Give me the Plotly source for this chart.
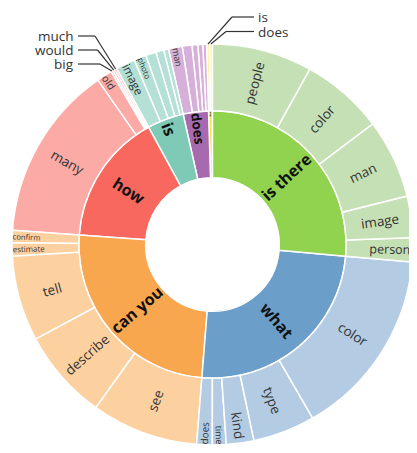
import math
import plotly.graph_objects as go

# first words of the question, clockwise from 12 o'clock
openers = ["is there", "what", "can you", "how", "is", "does", "why"]
opener_colors = ["#91d24f", "#6b9fca", "#f9a74f", "#f8685f", "#7ecab6", "#a86aae", "#f7e24c"]
leaf_colors = ["#c5e0b4", "#b3cce3", "#fdd0a0", "#fbaaa5", "#b4e0d5", "#d6b0d8", "#fcf0a3"]

# second words and their shares (degrees of the circle), clockwise
is_there_words = ["people", "color", "man", "image", "person"]
is_there_vals = [29, 24, 23, 12, 7]
what_words = ["color", "type", "kind", "time", "does"]
what_vals = [55, 18, 8, 4, 4.5]
can_you_words = ["see", "describe", "tell", "estimate", "confirm"]
can_you_vals = [31, 26.3, 24.8, 3.8, 3.6]
how_words = ["many", "old", "big", "would", "much"]
how_vals = [51, 4.5, 0.6, 0.6, 0.6]
is_words = ["image", "photo", "this", "there", "it"]
is_vals = [5.6, 3.6, 3.0, 2.3, 1.4]
does_words = ["man", "this", "it", "image", "person"]
does_vals = [4.0, 2.8, 1.7, 1.4, 1.1]
why_words = ["is", "does"]
why_vals = [0.8, 0.9]

# words that get a leader line instead of an inside label
left_callouts = ["much", "would", "big"]
right_callouts = ["is", "does"]
hidden = {("how", "big"), ("how", "would"), ("how", "much"),
          ("is", "this"), ("is", "there"), ("is", "it"),
          ("does", "this"), ("does", "it"), ("does", "image"), ("does", "person"),
          ("why", "is"), ("why", "does")}

groups = [is_there_words, what_words, can_you_words, how_words, is_words, does_words, why_words]
group_vals = [is_there_vals, what_vals, can_you_vals, how_vals, is_vals, does_vals, why_vals]

ids, labels, parents, values, colors, texts, tsize, tcolor = [], [], [], [], [], [], [], []

ids.append("root"); labels.append(""); parents.append(""); values.append(0)
colors.append("white"); texts.append(""); tsize.append(12); tcolor.append("#000")

# plotly lays sectors out counterclockwise, so feed everything in reverse
for k in reversed(range(len(openers))):
    op = openers[k]
    ids.append(op); labels.append(op); parents.append("root"); values.append(0)
    colors.append(opener_colors[k]); texts.append("<b>%s</b>" % op)
    tsize.append(16); tcolor.append("#111")
for k in reversed(range(len(openers))):
    op = openers[k]
    for w, v in reversed(list(zip(groups[k], group_vals[k]))):
        ids.append(op + "/" + w); labels.append(w); parents.append(op); values.append(v)
        colors.append(leaf_colors[k])
        texts.append("" if (op, w) in hidden else w)
        # thin slices get a smaller label so it sits in the middle of the ring
        tsize.append(13.5 if v >= 8 else 12.5); tcolor.append("#333")

fig = go.Figure(go.Sunburst(
    ids=ids, labels=labels, parents=parents, values=values,
    branchvalues="remainder",
    text=texts, textinfo="text",
    insidetextorientation="radial",
    textfont=dict(family="Open Sans", size=tsize, color=tcolor),
    marker=dict(colors=colors, line=dict(color="white", width=1.5)),
    leaf=dict(opacity=1),
    sort=False, rotation=90,
    hoverinfo="label+value",
))

# the page body adds an 8px margin, so the figure is drawn 8px in
OFF = 8
W, H = 409, 437
ml, mr, mt, mb = 0, 0, 36, 0
pw, ph = W - ml - mr, H - mt - mb
R = min(pw, ph) / 2
cx, cy = OFF + ml + pw / 2, OFF + mt + ph / 2


def px2paper(x, y):
    # page pixel -> paper fraction
    return (x - OFF - ml) / pw, (OFF + H - mb - y) / ph


# angle (clockwise from top) of each leaf's middle
total = sum(sum(v) for v in group_vals)
mid_angle = {}
acc = 0
for k, op in enumerate(openers):
    for w, v in zip(groups[k], group_vals[k]):
        mid_angle[(op, w)] = 360 * (acc + v / 2) / total
        acc += v


def anchor(op, w):
    a = math.radians(mid_angle[(op, w)])
    return cx + R * math.sin(a), cy - R * math.cos(a)


shapes, annos = [], []
lc = "#333"


def leader(p0, p1, p2):
    for a, b in [(p0, p1), (p1, p2)]:
        x0, y0 = px2paper(*a)
        x1, y1 = px2paper(*b)
        shapes.append(dict(type="line", xref="paper", yref="paper",
                           x0=x0, y0=y0, x1=x1, y1=y1,
                           line=dict(color=lc, width=1.2)))


for i, w in enumerate(left_callouts):
    ly = 36 + 14 * i
    leader((78, ly), (95 + 2.5 * i, ly), anchor("how", w))
    tx, ty = px2paper(76, ly)
    annos.append(dict(x=tx, y=ty, xref="paper", yref="paper", text=w,
                      showarrow=False, xanchor="right", yanchor="middle",
                      font=dict(family="Open Sans", size=13.5, color="#333")))

for i, w in enumerate(right_callouts):
    ly = 17 + 14.5 * i
    leader((254, ly), (232 - 6 * i, ly), anchor("why", w))
    tx, ty = px2paper(256, ly)
    annos.append(dict(x=tx, y=ty, xref="paper", yref="paper", text=w,
                      showarrow=False, xanchor="left", yanchor="middle",
                      font=dict(family="Open Sans", size=13.5, color="#333")))

fig.update_layout(
    width=W, height=H,
    margin=dict(l=ml, r=mr, t=mt, b=mb),
    paper_bgcolor="white",
    shapes=shapes, annotations=annos,
    showlegend=False,
)

fig.write_html("out.html")
